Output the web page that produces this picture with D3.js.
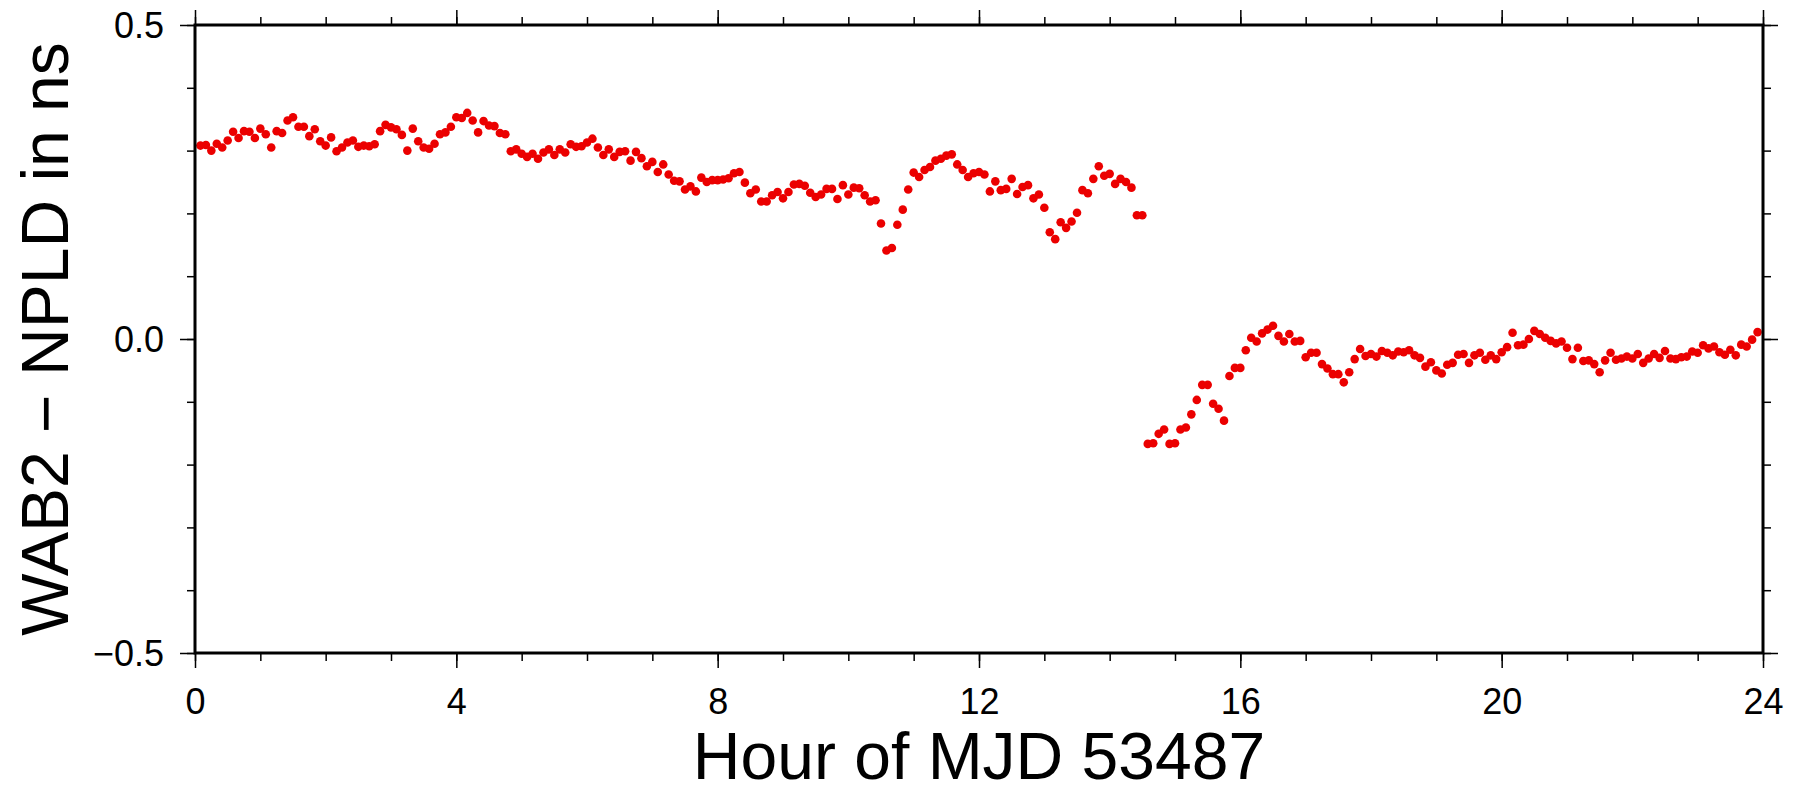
<!DOCTYPE html>
<html>
<head>
<meta charset="utf-8">
<script src="https://cdn.jsdelivr.net/npm/d3@7"></script>
<style>
    body { margin: 0; background: #fff; }
    svg { display: block; font-family: "Liberation Sans", Arial, Helvetica, sans-serif; }
</style>
</head>
<body>
<div id="wrapper"></div>
<script>

// clock offset samples every 5 minutes, first one at 00:05
const firstHour = 5 / 60
const stepHour = 5 / 60
const offsets = [
    0.308, 0.309, 0.300, 0.311, 0.305, 0.316, 0.330, 0.320, 0.331, 0.330, 0.320, 0.335,
    0.326, 0.305, 0.331, 0.328, 0.348, 0.353, 0.338, 0.338, 0.323, 0.334, 0.315, 0.308,
    0.321, 0.299, 0.305, 0.313, 0.316, 0.306, 0.308, 0.307, 0.310, 0.331, 0.341, 0.337,
    0.334, 0.325, 0.300, 0.335, 0.315, 0.305, 0.303, 0.311, 0.326, 0.329, 0.338, 0.353,
    0.352, 0.360, 0.348, 0.329, 0.347, 0.340, 0.339, 0.328, 0.326, 0.299, 0.302, 0.295,
    0.290, 0.295, 0.287, 0.297, 0.302, 0.293, 0.302, 0.297, 0.310, 0.306, 0.307, 0.313,
    0.319, 0.305, 0.293, 0.302, 0.290, 0.298, 0.299, 0.284, 0.298, 0.288, 0.275, 0.282,
    0.266, 0.278, 0.262, 0.252, 0.251, 0.238, 0.243, 0.235, 0.257, 0.250, 0.253, 0.253,
    0.254, 0.256, 0.264, 0.266, 0.249, 0.232, 0.238, 0.219, 0.219, 0.229, 0.234, 0.224,
    0.234, 0.246, 0.247, 0.244, 0.233, 0.226, 0.230, 0.239, 0.239, 0.223, 0.245, 0.230,
    0.241, 0.240, 0.229, 0.219, 0.221, 0.184, 0.141, 0.145, 0.182, 0.206, 0.238, 0.265,
    0.258, 0.269, 0.274, 0.284, 0.287, 0.292, 0.294, 0.278, 0.269, 0.258, 0.264, 0.266,
    0.262, 0.235, 0.251, 0.237, 0.239, 0.255, 0.231, 0.242, 0.245, 0.224, 0.230, 0.209,
    0.170, 0.159, 0.186, 0.177, 0.187, 0.201, 0.237, 0.232, 0.255, 0.275, 0.260, 0.263,
    0.247, 0.255, 0.250, 0.241, 0.197, 0.197, -0.167, -0.166, -0.151, -0.144, -0.167, -0.166,
    -0.144, -0.141, -0.120, -0.097, -0.073, -0.073, -0.103, -0.111, -0.130, -0.059, -0.046, -0.046,
    -0.018, 0.002, -0.004, 0.009, 0.015, 0.021, 0.005, -0.004, 0.008, -0.004, -0.003, -0.029,
    -0.022, -0.022, -0.040, -0.047, -0.056, -0.056, -0.069, -0.053, -0.032, -0.016, -0.027, -0.024,
    -0.028, -0.019, -0.022, -0.026, -0.020, -0.021, -0.018, -0.026, -0.030, -0.044, -0.037, -0.050,
    -0.055, -0.041, -0.038, -0.025, -0.024, -0.038, -0.026, -0.022, -0.033, -0.026, -0.032, -0.021,
    -0.013, 0.010, -0.010, -0.009, 0.000, 0.013, 0.008, 0.002, -0.003, -0.007, -0.004, -0.014,
    -0.032, -0.014, -0.035, -0.034, -0.040, -0.053, -0.034, -0.022, -0.033, -0.031, -0.028, -0.031,
    -0.024, -0.038, -0.031, -0.024, -0.030, -0.019, -0.031, -0.032, -0.029, -0.028, -0.020, -0.022,
    -0.010, -0.015, -0.012, -0.021, -0.025, -0.017, -0.026, -0.009, -0.012, -0.001, 0.011
]

const xMajorTicks = [0, 4, 8, 12, 16, 20, 24]
const xMinorTicks = [0, 1, 2, 3, 4, 5, 6, 7, 8, 9, 10, 11, 12, 13, 14, 15, 16, 17, 18, 19, 20, 21, 22, 23, 24]
const yMajorTicks = [-0.5, 0, 0.5]
const yMajorLabels = ["\u22120.5", "0.0", "0.5"]
const yMinorTicks = [-0.5, -0.4, -0.3, -0.2, -0.1, 0, 0.1, 0.2, 0.3, 0.4, 0.5]

const xTitle = "Hour of MJD 53487"
const yTitle = "WAB2 \u2212 NPLD in ns"

var data = offsets.map((v, i) => ({ hour: firstHour + i * stepHour, offset: v }))

var margin = { top: 25, right: 37, bottom: 138, left: 195 },
    width = 1800 - margin.left - margin.right,
    height = 791 - margin.top - margin.bottom

const svg = d3.select("#wrapper")
    .append("svg")
    .attr("width", 1800)
    .attr("height", 791)

const bounds = svg.append("g")
    .attr("transform", "translate(" + margin.left + "," + margin.top + ")")

var xAccessor = d => d.hour
var yAccessor = d => d.offset

var xScale = d3.scaleLinear()
    .domain([0, 24])
    .range([0, width])

var yScale = d3.scaleLinear()
    .domain([-0.5, 0.5])
    .range([height, 0])

// points
bounds.append("g")
    .selectAll("circle")
    .data(data)
    .join("circle")
    .attr("cx", d => xScale(xAccessor(d)))
    .attr("cy", d => yScale(yAccessor(d)))
    .attr("r", 4.3)
    .attr("fill", "#eb0000")

// tick marks on all four sides, outward
function ticks(axis, values, size) {
    return axis.tickValues(values).tickSize(size).tickSizeOuter(0).tickFormat("")
}

function styleAxis(g) {
    g.select(".domain").remove()
    g.selectAll(".tick line").attr("stroke", "black").attr("stroke-width", 1.5)
}

bounds.append("g").attr("transform", `translate(0,${height})`)
    .call(ticks(d3.axisBottom(xScale), xMinorTicks, 8)).call(styleAxis)
bounds.append("g").call(ticks(d3.axisTop(xScale), xMinorTicks, 8)).call(styleAxis)
bounds.append("g").call(ticks(d3.axisTop(xScale), xMajorTicks, 15)).call(styleAxis)
bounds.append("g").call(ticks(d3.axisLeft(yScale), yMinorTicks, 8)).call(styleAxis)
bounds.append("g").attr("transform", `translate(${width},0)`)
    .call(ticks(d3.axisRight(yScale), yMinorTicks, 8)).call(styleAxis)
bounds.append("g").attr("transform", `translate(${width},0)`)
    .call(ticks(d3.axisRight(yScale), yMajorTicks, 15)).call(styleAxis)

var xAxis = bounds.append("g")
    .attr("transform", `translate(0,${height})`)
    .call(d3.axisBottom(xScale).tickValues(xMajorTicks).tickSize(15).tickSizeOuter(0))
    .call(styleAxis)
xAxis.selectAll(".tick text")
    .attr("y", 61)
    .attr("dy", 0)
    .attr("fill", "black")
    .style("font-size", "36px")

var yAxis = bounds.append("g")
    .call(d3.axisLeft(yScale).tickValues(yMajorTicks).tickSize(15).tickSizeOuter(0)
        .tickFormat((d, i) => yMajorLabels[i]))
    .call(styleAxis)
yAxis.selectAll(".tick text")
    .attr("x", -31)
    .attr("dy", "0.36em")
    .attr("fill", "black")
    .style("font-size", "36px")

svg.selectAll(".tick text").attr("font-family", null).attr("font-size", null)

// frame
bounds.append("rect")
    .attr("width", width)
    .attr("height", height)
    .attr("fill", "none")
    .attr("stroke", "black")
    .attr("stroke-width", 3)

// titles
svg.append("text")
    .attr("x", margin.left + width / 2)
    .attr("y", 779)
    .attr("text-anchor", "middle")
    .style("font-size", "66px")
    .text(xTitle)

svg.append("text")
    .attr("transform", `translate(68,${margin.top + height / 2}) rotate(-90)`)
    .attr("text-anchor", "middle")
    .style("font-size", "66px")
    .text(yTitle)

</script>
</body>
</html>
